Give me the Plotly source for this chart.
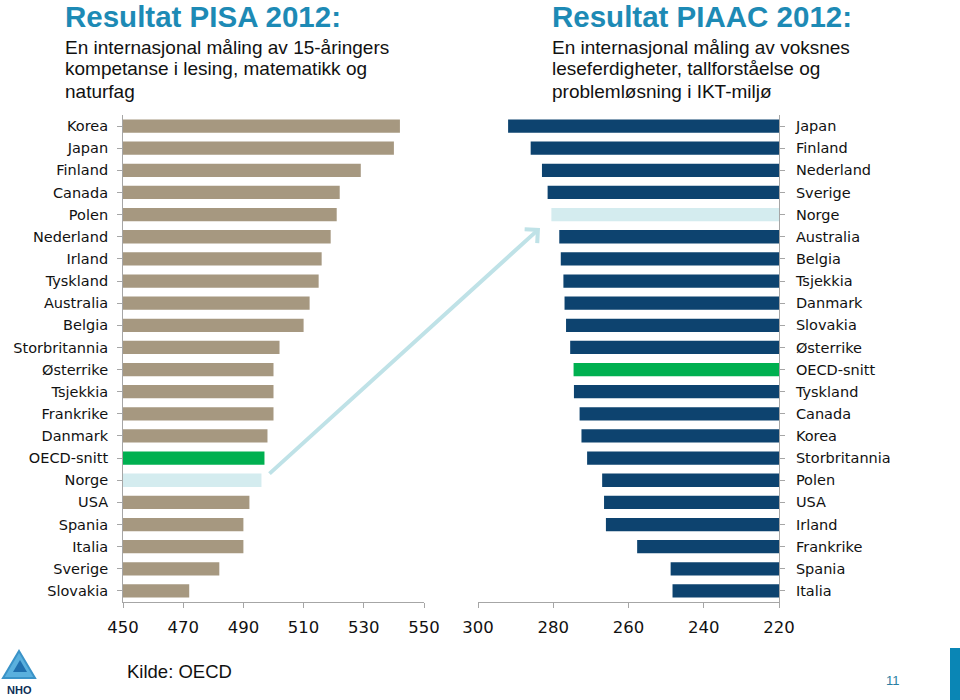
import plotly.graph_objects as go

# PISA 2012 (left)
pisa_countries = ["Korea", "Japan", "Finland", "Canada", "Polen", "Nederland", "Irland",
                  "Tyskland", "Australia", "Belgia", "Storbritannia", "Østerrike", "Tsjekkia",
                  "Frankrike", "Danmark", "OECD-snitt", "Norge", "USA", "Spania", "Italia",
                  "Sverige", "Slovakia"]
pisa_scores = [542, 540, 529, 522, 521, 519, 516, 515, 512, 510, 502, 500, 500, 500,
               498, 497, 496, 492, 490, 490, 482, 472]
pisa_ticks = [450, 470, 490, 510, 530, 550]

# PIAAC 2012 (right)
piaac_countries = ["Japan", "Finland", "Nederland", "Sverige", "Norge", "Australia", "Belgia",
                   "Tsjekkia", "Danmark", "Slovakia", "Østerrike", "OECD-snitt", "Tyskland",
                   "Canada", "Korea", "Storbritannia", "Polen", "USA", "Irland", "Frankrike",
                   "Spania", "Italia"]
piaac_scores = [292, 286, 283, 281.5, 280.5, 278.4, 278, 277.3, 277, 276.6, 275.5, 274.6,
                274.5, 273, 272.5, 271, 267, 266.5, 266, 257.7, 248.8, 248.3]
piaac_ticks = [300, 280, 260, 240, 220]

left_title = "Resultat PISA 2012:"
left_sub = ["En internasjonal måling av 15-åringers", "kompetanse i lesing, matematikk og", "naturfag"]
right_title = "Resultat PIAAC 2012:"
right_sub = ["En internasjonal måling av voksnes", "leseferdigheter, tallforståelse og", "problemløsning i IKT-miljø"]

TAN = "#A69880"
NAVY = "#0D436F"
GREEN = "#00B050"
LIGHT = "#D4ECEF"
TITLE = "#1D8AB5"
AXIS = "#A6A6A6"
FONT = "DejaVu Sans"
W, H = 960, 700


def colors(names, base):
    out = []
    for n in names:
        if n == "Norge":
            out.append(LIGHT)
        elif n == "OECD-snitt":
            out.append(GREEN)
        else:
            out.append(base)
    return out


def px(x):
    return x / W


def py(y):
    return 1 - y / H


fig = go.Figure()
fig.add_trace(go.Bar(
    y=pisa_countries, x=pisa_scores, orientation="h",
    marker=dict(color=colors(pisa_countries, TAN), line=dict(width=0)),
    width=0.6, xaxis="x", yaxis="y", showlegend=False,
))
fig.add_trace(go.Bar(
    y=piaac_countries, x=piaac_scores, orientation="h",
    marker=dict(color=colors(piaac_countries, NAVY), line=dict(width=0)),
    width=0.6, xaxis="x2", yaxis="y2", showlegend=False,
))

axis_common = dict(showgrid=False, zeroline=False, showline=True, linecolor=AXIS,
                   linewidth=1, ticks="outside", tickcolor=AXIS, ticklen=5,
                   automargin=False)

fig.update_layout(
    width=W, height=H,
    margin=dict(l=0, r=0, t=0, b=0, pad=0),
    paper_bgcolor="white", plot_bgcolor="white",
    xaxis=dict(domain=[px(123), px(424)], range=[450, 550], tickvals=pisa_ticks,
               anchor="y", tickfont=dict(family=FONT, size=16.5, color="#111111"),
               ticklabelstandoff=5, **axis_common),
    yaxis=dict(domain=[py(602), py(115)], anchor="x", autorange="reversed",
               tickfont=dict(family=FONT, size=14.5, color="#111111"),
               ticklabelstandoff=6, **axis_common),
    xaxis2=dict(domain=[px(478), px(779)], range=[300, 220], tickvals=piaac_ticks,
                anchor="y2", tickfont=dict(family=FONT, size=16.5, color="#111111"),
                ticklabelstandoff=5, **axis_common),
    yaxis2=dict(domain=[py(602), py(115)], anchor="x2", autorange="reversed", side="right",
                tickfont=dict(family=FONT, size=14.5, color="#111111"),
                ticklabelstandoff=8, **axis_common),
)

ann = []
for x0, title, sub in [(63, left_title, left_sub), (550, right_title, right_sub)]:
    ann.append(dict(text=f"<b>{title}</b>", x=px(x0), y=py(16), xref="paper", yref="paper",
                    xanchor="left", yanchor="middle", showarrow=False,
                    font=dict(family="Liberation Sans", size=29.5, color=TITLE)))
    for i, line in enumerate(sub):
        ann.append(dict(text=line, x=px(x0), y=py(47 + 22 * i), xref="paper", yref="paper",
                        xanchor="left", yanchor="middle", showarrow=False,
                        font=dict(family="Liberation Sans", size=19, color="#111111")))
# arrow
ann.append(dict(text="", x=px(540), y=py(228), xref="paper", yref="paper",
                ax=-272, ay=247, axref="pixel", ayref="pixel", showarrow=True,
                arrowhead=4, arrowsize=0.9, arrowwidth=4, arrowcolor="#BFE2E7"))
ann.append(dict(text="Kilde: OECD", x=px(125), y=py(671), xref="paper", yref="paper",
                xanchor="left", yanchor="middle", showarrow=False,
                font=dict(family="Liberation Sans", size=18.5, color="#111111")))
ann.append(dict(text="11", x=px(893), y=py(680), xref="paper", yref="paper",
                xanchor="center", yanchor="middle", showarrow=False,
                font=dict(family="Liberation Sans", size=13, color="#2A7FA3")))
ann.append(dict(text="<b>NHO</b>", x=px(19), y=py(690), xref="paper", yref="paper",
                xanchor="center", yanchor="middle", showarrow=False,
                font=dict(family="Liberation Sans", size=11, color="#0D2F57")))
fig.update_layout(annotations=ann)

shapes = []
# right-edge blue strip
shapes.append(dict(type="rect", xref="paper", yref="paper", x0=px(950), x1=1,
                   y0=0, y1=py(648), fillcolor="#0A86B5", line=dict(width=0)))
# NHO logo (approximate triangular emblem)
shapes.append(dict(type="path", xref="paper", yref="paper",
                   path=f"M {px(19)} {py(651)} L {px(35)} {py(678)} L {px(3)} {py(678)} Z",
                   fillcolor="#5AB0DE", line=dict(color="#3A93C8", width=2)))
shapes.append(dict(type="path", xref="paper", yref="paper",
                   path=f"M {px(20)} {py(660)} L {px(27)} {py(672)} L {px(13)} {py(672)} Z",
                   fillcolor="#1F6FAE", line=dict(width=0)))
fig.update_layout(shapes=shapes)

fig.write_html("out.html", config={"displayModeBar": False},
               post_script="document.body.style.margin='0';document.body.style.overflow='hidden';")
